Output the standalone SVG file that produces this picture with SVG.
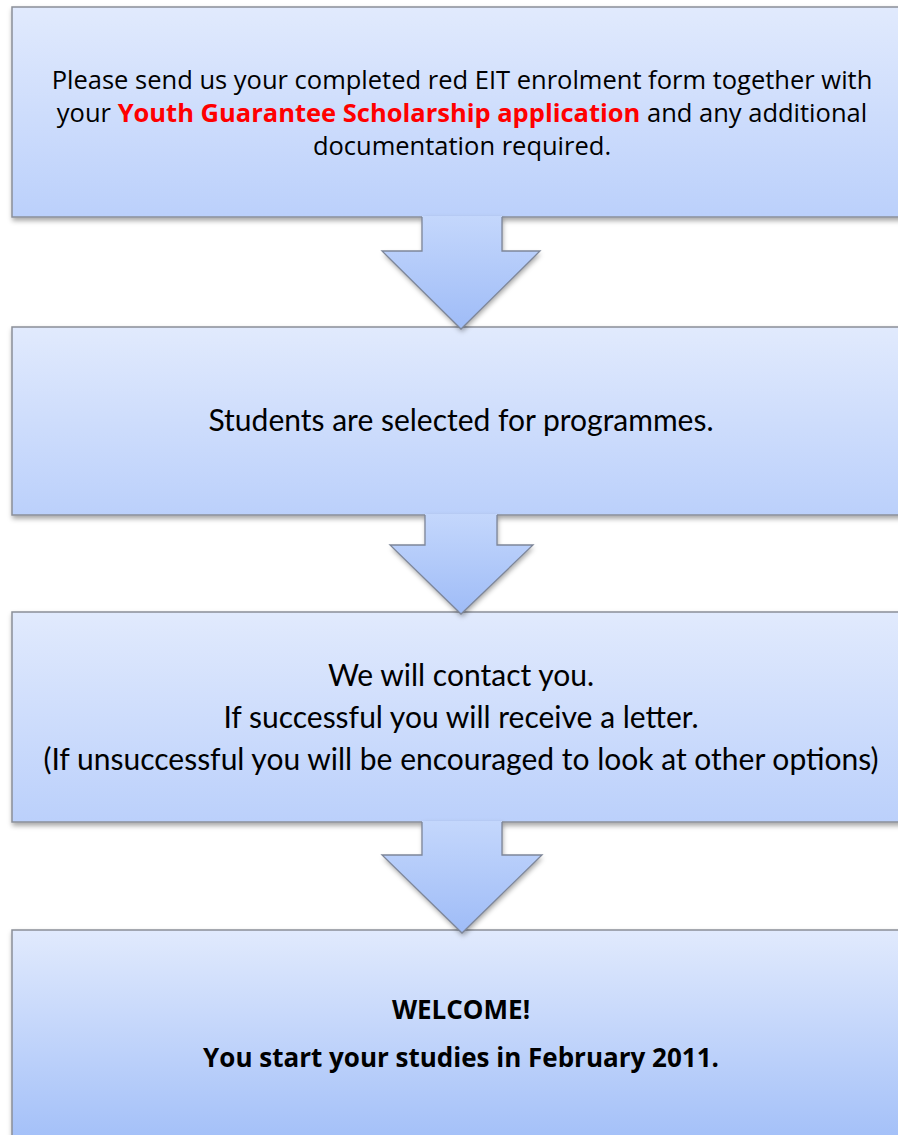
<svg xmlns="http://www.w3.org/2000/svg" width="898" height="1135" viewBox="0 0 898 1135">
<defs>
<linearGradient id="boxg" x1="0" y1="0" x2="0" y2="1">
<stop offset="0" stop-color="#e1eafd"/>
<stop offset="1" stop-color="#bbd0fb"/>
</linearGradient>
<linearGradient id="box4g" x1="0" y1="0" x2="0" y2="1">
<stop offset="0" stop-color="#e1eafd"/>
<stop offset="1" stop-color="#a2bff8"/>
</linearGradient>
<linearGradient id="arrg" x1="0" y1="0" x2="0" y2="1">
<stop offset="0" stop-color="#c4d7fc"/>
<stop offset="1" stop-color="#9fbcf7"/>
</linearGradient>
<filter id="sh" x="-5%" y="-5%" width="115%" height="125%">
<feDropShadow dx="1" dy="3" stdDeviation="2.5" flood-color="#000" flood-opacity="0.35"/>
</filter>
<style>
.box{stroke:#8a8f98;stroke-width:1.5;filter:url(#sh)}
.arr{fill:url(#arrg);filter:url(#sh)}
.arrs{fill:none;stroke:#7d8699;stroke-width:1.3;stroke-linejoin:miter}
.t1{font-family:"Open Sans","Liberation Sans",sans-serif;font-size:25.5px;fill:#000;text-anchor:middle}
.t2{font-family:Lato,"Liberation Sans",sans-serif;font-size:30px;fill:#000;text-anchor:middle}
.t4{font-family:"Open Sans","Liberation Sans",sans-serif;font-size:26px;font-weight:bold;fill:#000;text-anchor:middle}
.red{fill:#ff0000;font-weight:bold}
</style>
</defs>
<g id="node1">
<rect class="box" x="12" y="7" width="900" height="210" fill="url(#boxg)"/>
<text class="t1" x="462" y="89">Please send us your completed red EIT enrolment form together with</text>
<text class="t1" x="462" y="122">your <tspan class="red">Youth Guarantee Scholarship application</tspan> and any additional</text>
<text class="t1" x="462" y="155">documentation required.</text>
</g>
<g id="node2">
<rect class="box" x="12" y="327" width="900" height="188" fill="url(#boxg)"/>
<text class="t2" x="461" y="431">Students are selected for programmes.</text>
</g>
<g id="node3">
<rect class="box" x="12" y="612" width="900" height="210" fill="url(#boxg)"/>
<text class="t2" x="461" y="686">We will contact you.</text>
<text class="t2" x="461" y="728">If successful you will receive a letter.</text>
<text class="t2" x="461" y="770">(If unsuccessful you will be encouraged to look at other options)</text>
</g>
<g id="node4">
<rect class="box" x="12" y="930" width="900" height="215" fill="url(#box4g)"/>
<text class="t4" x="461" y="1019">WELCOME!</text>
<text class="t4" x="461" y="1067">You start your studies in February 2011.</text>
</g>
<g id="connectors">
<g>
<polygon class="arr" points="422,216 502,216 502,251 540,251 461,329 382,251 422,251"/>
<polyline class="arrs" points="422,217 422,251 382,251 461,329 540,251 502,251 502,217"/>
</g>
<g>
<polygon class="arr" points="425,514 497,514 497,545 533,545 461,614 390,545 425,545"/>
<polyline class="arrs" points="425,515 425,545 390,545 461,614 533,545 497,545 497,515"/>
</g>
<g>
<polygon class="arr" points="422,821 502,821 502,855 542,855 462,933 382,855 422,855"/>
<polyline class="arrs" points="422,822 422,855 382,855 462,933 542,855 502,855 502,822"/>
</g>
</g>
</svg>
